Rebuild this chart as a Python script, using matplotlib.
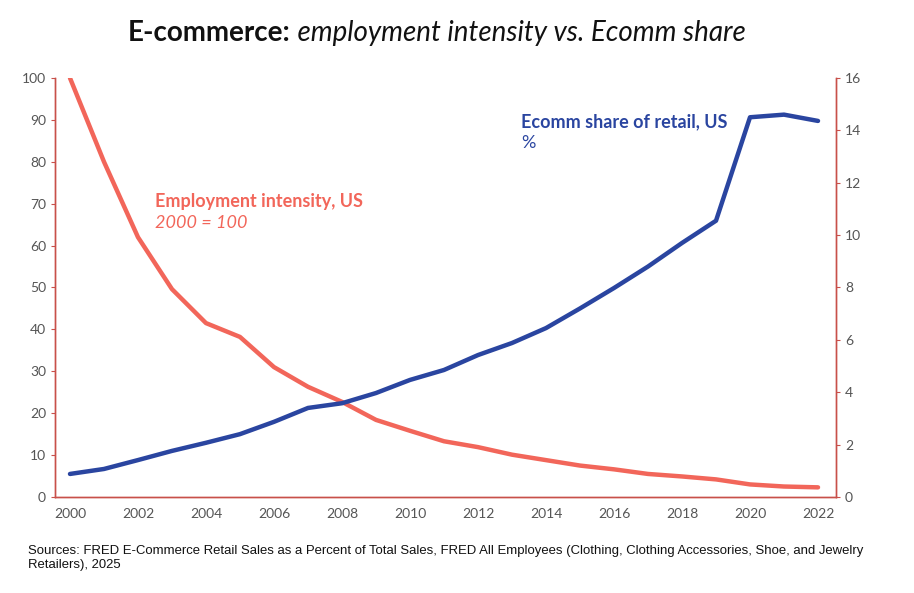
import matplotlib
matplotlib.use("Agg")
import matplotlib.pyplot as plt

years = list(range(2000, 2023))
employment_intensity = [100, 80, 62, 49.6, 41.5, 38.2, 31, 26.3, 22.7, 18.4, 15.8, 13.3,
                        11.9, 10.1, 8.8, 7.5, 6.6, 5.5, 4.9, 4.2, 3.0, 2.5, 2.3]
ecomm_share = [0.88, 1.07, 1.41, 1.76, 2.07, 2.4, 2.87, 3.4, 3.58, 3.97, 4.47, 4.85,
               5.42, 5.88, 6.45, 7.2, 7.98, 8.8, 9.7, 10.55, 14.5, 14.6, 14.36]
x_ticks = list(range(2000, 2023, 2))
left_ticks = list(range(0, 101, 10))
right_ticks = list(range(0, 17, 2))

RED = "#F2665A"
BLUE = "#2A45A0"
SPINE = "#C8504A"
TICKTXT = "#555555"

plt.rcParams['font.family'] = ['Lato', 'DejaVu Sans']

fig = plt.figure(figsize=(9.14, 5.93), dpi=100)
ax = fig.add_axes([0.0602, 0.1619, 0.9147 - 0.0602, 0.8685 - 0.1619])
ax2 = ax.twinx()

ax.plot(years, employment_intensity, color=RED, lw=3.2, solid_capstyle='round', zorder=3)
ax2.plot(years, ecomm_share, color=BLUE, lw=3.2, solid_capstyle='round', zorder=3)

ax.set_xlim(1999.56, 2022.53)
ax.set_ylim(0, 100)
ax2.set_ylim(0, 16)
ax.set_xticks(x_ticks)
ax.set_yticks(left_ticks)
ax2.set_yticks(right_ticks)

for a in (ax, ax2):
    a.spines['top'].set_visible(False)
    for s in ('left', 'right', 'bottom'):
        a.spines[s].set_color(SPINE)
        a.spines[s].set_linewidth(1.0)
    a.tick_params(colors=SPINE, labelcolor=TICKTXT, labelsize=10, length=3, width=0.8)
ax.tick_params(axis='x', length=0, pad=8)

ax2.set_zorder(ax.get_zorder() + 1)
ax2.patch.set_visible(False)

t1 = fig.text(0.14, 0.945, "E-commerce:", ha='left', va='center', fontsize=20, fontweight='bold',
              color='#111111')
fig.canvas.draw()
bb = t1.get_window_extent(renderer=fig.canvas.get_renderer())
fig.text(bb.x1 / fig.bbox.width, 0.945, " employment intensity vs. Ecomm share", ha='left', va='center',
         fontsize=20, fontstyle='italic', color='#111111')

ax.text(2002.5, 70.5, "Employment intensity, US", color=RED, fontsize=13, fontweight='bold', ha='left', va='center')
ax.text(2002.5, 65.5, "2000 = 100", color=RED, fontsize=13, fontstyle='italic', ha='left', va='center')
ax.text(2013.26, 89.5, "Ecomm share of retail, US", color=BLUE, fontsize=13, fontweight='bold', ha='left', va='center')
ax.text(2013.26, 84.5, "%", color=BLUE, fontsize=13, ha='left', va='center')

fig.text(0.031, 0.081, "Sources: FRED E-Commerce Retail Sales as a Percent of Total Sales, FRED All Employees (Clothing, Clothing Accessories, Shoe, and Jewelry\nRetailers), 2025",
         ha='left', va='top', fontsize=9.45, color='#111111', linespacing=1.25,
         family=['Liberation Sans Narrow', 'Liberation Sans', 'DejaVu Sans'])

fig.savefig("out.png", dpi=100)
